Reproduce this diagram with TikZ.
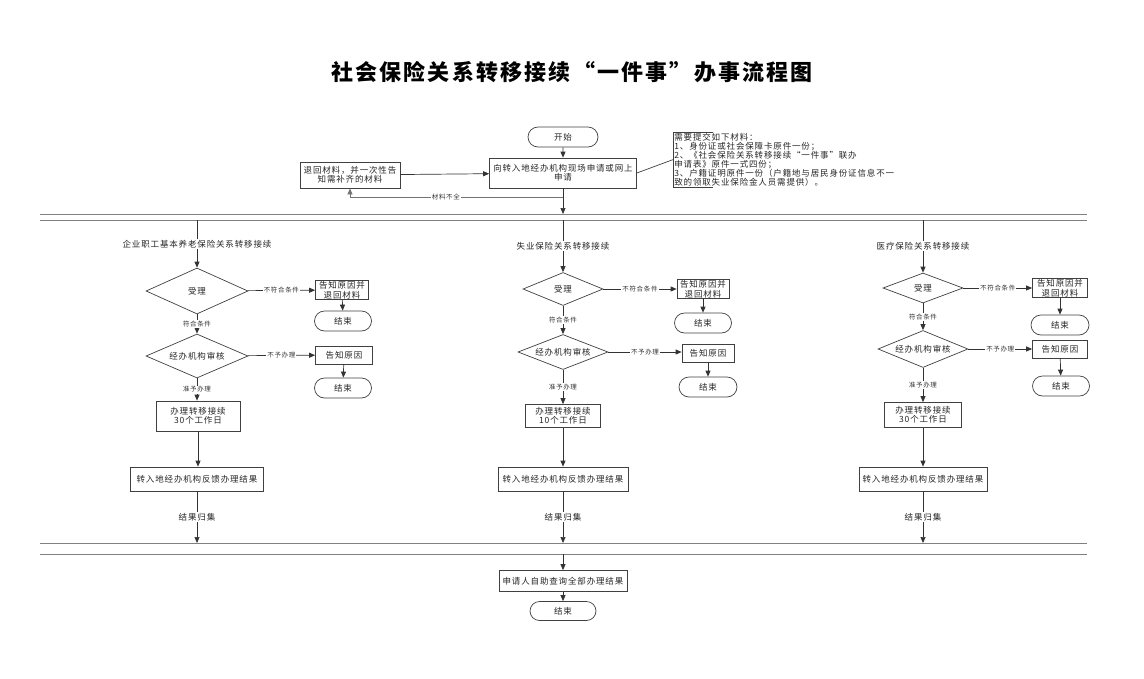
\documentclass[tikz,border=0pt]{standalone}
\usepackage{fontspec}
\setmainfont[LetterSpace=10]{Noto Sans CJK SC}
\usetikzlibrary{shapes.geometric,shapes.misc,arrows.meta,positioning}

\begin{document}
\begin{tikzpicture}[x=1pt, y=-1pt, line width=0.7pt,
      box/.style={draw=black!75, rectangle, inner xsep=2pt, inner ysep=1pt, align=center, fill=white, text=black!85, font=\fontsize{8.5}{9.5}\selectfont}, % 方框
      decision/.style={draw=black!75, diamond, aspect=2.5, inner sep=0pt, fill=white, text=black!85, font=\fontsize{8.5}{9.5}\selectfont}, % 判断
      terminal/.style={draw=black!75, rounded rectangle, inner sep=0pt, fill=white, minimum width=57pt, minimum height=20pt, text=black!85, font=\fontsize{8.5}{9.5}\selectfont},
      flow/.style={draw=black!80, -{Triangle[length=6pt,width=5pt]}},
      lane/.style={draw=black!50, line width=0.9pt},
      tag/.style={fill=white, inner sep=1pt, text=black!80, font=\fontsize{6.5}{7}\selectfont},
      lanetag/.style={fill=white, inner sep=1pt, text=black!85, font=\fontsize{8.5}{9}\selectfont}
    ]
    \useasboundingbox (0,0) rectangle (1144,678);
    % 标题
    \node (title) at (572,72) {\fontsize{22}{24}\selectfont\bfseries 社会保险关系转移接续“一件事”办事流程图};

    % 申请
    \node [terminal, minimum width=70pt] (start) at (563,137) {开始};
    \node [box, minimum width=147pt, minimum height=30pt] (apply) at (563,173) {向转入地经办机构现场申请或网上\\申请};
    \node [box, minimum width=100pt, minimum height=26pt] (back) at (350,175) {退回材料，并一次性告\\知需补齐的材料};
    \node [anchor=north west, align=left, inner sep=1pt, text=black!85, font=\fontsize{8.5}{8.9}\selectfont] (note) at (673,132)
      {需要提交如下材料：\\1、身份证或社会保障卡原件一份；\\2、《社会保险关系转移接续“一件事”联办\\申请表》原件一式四份；\\3、户籍证明原件一份（户籍地与居民身份证信息不一\\致的领取失业保险金人员需提供）。};
    \draw [black!75] (note.north west) ++(40,0) -| (note.south west) -- ++(40,0);
    \draw [black!75] (apply.east) -- (note.west);
    \draw [flow] (start) -- (apply);
    \draw [flow] (back) -- (apply);
    \coordinate (split) at (563,197);
    \draw [flow, draw=black!55] (split) -- node[tag, pos=0.55] {材料不全} (split -| back.south) -- (back.south);

    % 分隔线
    \coordinate (laneA) at (40,214);
    \coordinate (laneB) at (40,220);
    \coordinate (laneC) at (40,543);
    \coordinate (laneD) at (40,554);
    \draw [lane] (laneA) -- ++(1047,0);
    \draw [lane] (laneB) -- ++(1047,0);
    \draw [lane] (laneC) -- ++(1047,0);
    \draw [lane] (laneD) -- ++(1047,0);
    \draw [flow] (apply) -- (apply.south |- laneA);

    % 企业职工基本养老保险
    \node [decision, minimum width=102pt, minimum height=46pt] (c1acc) at (197,291) {受理};
    \node [box, minimum width=53pt, minimum height=18pt] (c1ret) at (342,290) {告知原因并\\退回材料};
    \node [terminal] (c1end1) at (343,321) {结束};
    \node [decision, minimum width=102pt, minimum height=44pt] (c1chk) at (197,356) {经办机构审核};
    \node [box, minimum width=57pt, minimum height=18pt] (c1why) at (344,355) {告知原因};
    \node [terminal] (c1end2) at (343,388) {结束};
    \node [box, minimum width=84pt, minimum height=30pt] (c1do) at (198,416) {办理转移接续\\30个工作日};
    \node [box, minimum width=133pt, minimum height=24pt] (c1fb) at (197,479) {转入地经办机构反馈办理结果};
    \draw [flow] (c1acc.north |- laneB) -- node[lanetag] {企业职工基本养老保险关系转移接续} (c1acc);
    \draw [flow] (c1acc) -- node[tag] {不符合条件} (c1ret);
    \draw [flow] (c1ret) -- (c1end1);
    \draw [flow] (c1acc) -- node[tag] {符合条件} (c1chk);
    \draw [flow] (c1chk) -- node[tag] {不予办理} (c1why);
    \draw [flow] (c1why) -- (c1end2);
    \draw [flow] (c1chk) -- node[tag] {准予办理} (c1chk.south |- c1do.north);
    \draw [flow] (c1do) -- (c1do.south |- c1fb.north);
    \draw [flow] (c1fb) -- node[lanetag] {结果归集} (c1fb.south |- laneC);

    % 失业保险
    \node [decision, minimum width=80pt, minimum height=33pt] (c2acc) at (563,289) {受理};
    \node [box, minimum width=52pt, minimum height=18pt] (c2ret) at (703,289) {告知原因并\\退回材料};
    \node [terminal] (c2end1) at (703,323) {结束};
    \node [decision, minimum width=90pt, minimum height=35pt] (c2chk) at (563,352) {经办机构审核};
    \node [box, minimum width=52pt, minimum height=18pt] (c2why) at (708,353) {告知原因};
    \node [terminal, minimum width=58pt] (c2end2) at (708,387) {结束};
    \node [box, minimum width=75pt, minimum height=23pt] (c2do) at (563,416) {办理转移接续\\10个工作日};
    \node [box, minimum width=130pt, minimum height=24pt] (c2fb) at (563,479) {转入地经办机构反馈办理结果};
    \draw [flow] (c2acc.north |- laneB) -- node[lanetag] {失业保险关系转移接续} (c2acc);
    \draw [flow] (c2acc) -- node[tag] {不符合条件} (c2ret);
    \draw [flow] (c2ret) -- (c2end1);
    \draw [flow] (c2acc) -- node[tag] {符合条件} (c2chk);
    \draw [flow] (c2chk) -- node[tag] {不予办理} (c2chk.east -| c2why.west);
    \draw [flow] (c2why) -- (c2end2);
    \draw [flow] (c2chk) -- node[tag] {准予办理} (c2do);
    \draw [flow] (c2do) -- (c2fb);
    \draw [flow] (c2fb) -- node[lanetag] {结果归集} (c2fb.south |- laneC);

    % 医疗保险
    \node [decision, minimum width=80pt, minimum height=30pt] (c3acc) at (923,288) {受理};
    \node [box, minimum width=55pt, minimum height=19pt] (c3ret) at (1060,288) {告知原因并\\退回材料};
    \node [terminal, minimum width=58pt] (c3end1) at (1060,325) {结束};
    \node [decision, minimum width=90pt, minimum height=37pt] (c3chk) at (923,349) {经办机构审核};
    \node [box, minimum width=55pt, minimum height=18pt] (c3why) at (1060,349) {告知原因};
    \node [terminal] (c3end2) at (1061,386) {结束};
    \node [box, minimum width=77pt, minimum height=25pt] (c3do) at (923,415) {办理转移接续\\30个工作日};
    \node [box, minimum width=128pt, minimum height=24pt] (c3fb) at (923,479) {转入地经办机构反馈办理结果};
    \draw [flow] (c3acc.north |- laneB) -- node[lanetag] {医疗保险关系转移接续} (c3acc);
    \draw [flow] (c3acc) -- node[tag] {不符合条件} (c3ret);
    \draw [flow] (c3ret) -- (c3end1);
    \draw [flow] (c3acc) -- node[tag] {符合条件} (c3chk);
    \draw [flow] (c3chk) -- node[tag] {不予办理} (c3why);
    \draw [flow] (c3why) -- (c3end2);
    \draw [flow] (c3chk) -- node[tag] {准予办理} (c3do);
    \draw [flow] (c3do) -- (c3fb);
    \draw [flow] (c3fb) -- node[lanetag] {结果归集} (c3fb.south |- laneC);

    % 结果查询
    \node [box, minimum width=128pt, minimum height=21pt] (query) at (563,581) {申请人自助查询全部办理结果};
    \node [terminal, minimum width=66pt, minimum height=19pt] (fin) at (563,611) {结束};
    \draw [flow] (query.north |- laneD) -- (query);
    \draw [flow] (query) -- (fin);
\end{tikzpicture}
\end{document}
